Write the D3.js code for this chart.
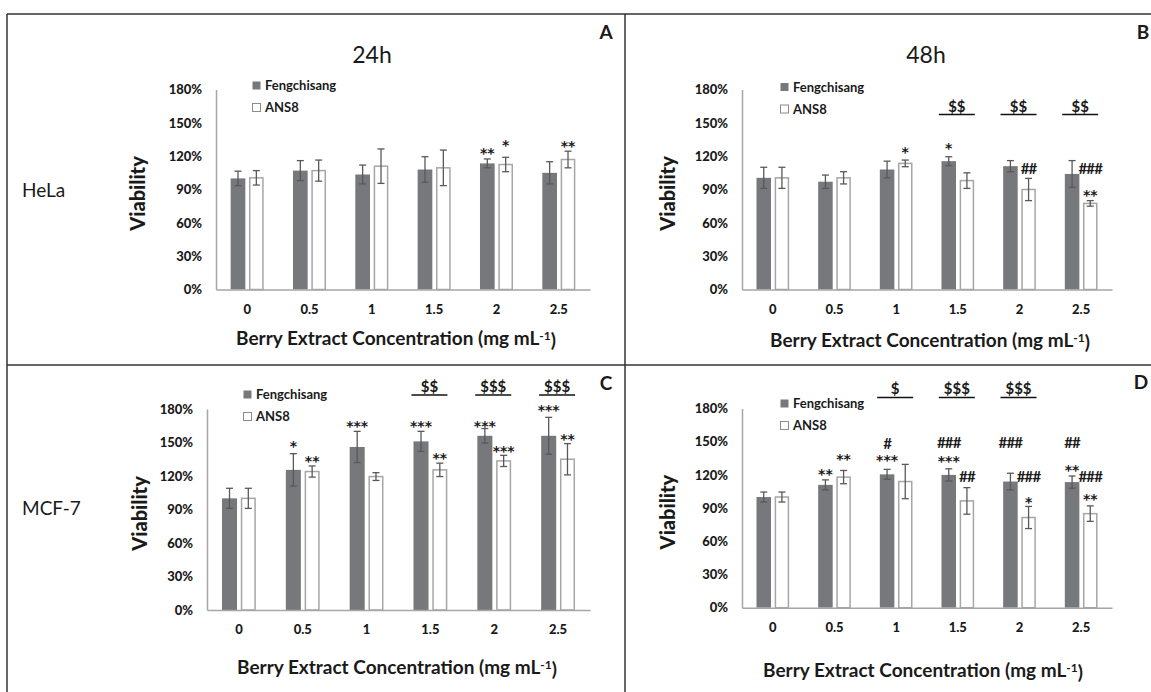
<!DOCTYPE html>
<html>
<head>
<meta charset="utf-8">
<script src="https://cdn.jsdelivr.net/npm/d3@7"></script>
<style>
  body { margin: 0; background: #fff; }
  svg text { font-family: Lato, "Open Sans", sans-serif; fill: #1a1a1a; }
</style>
</head>
<body>
<svg id="chart"></svg>
<script>
const width = 1151;
const height = 692;

const concentrations = ["0", "0.5", "1", "1.5", "2", "2.5"];
const seriesNames = ["Fengchisang", "ANS8"];
const yTicks = [0, 30, 60, 90, 120, 150, 180];

// HeLa, 24h
const helaFeng24 = [100, 107, 103.5, 108, 113.5, 105];
const helaFeng24Err = [6.5, 9, 8.5, 11.5, 4, 10];
const helaAns24 = [100.5, 107, 111, 109.5, 112.5, 117];
const helaAns24Err = [6.5, 9.5, 15.5, 16, 6.5, 7.5];
// HeLa, 48h
const helaFeng48 = [100.5, 97, 108, 115.5, 111, 104];
const helaFeng48Err = [9.5, 6, 7.5, 4, 5, 12];
const helaAns48 = [100.5, 100.5, 113.5, 98, 90, 77.5];
const helaAns48Err = [9.5, 5.5, 3, 7, 10, 2.5];
// MCF-7, 24h
const mcfFeng24 = [100, 125.5, 146, 151, 156, 156];
const mcfFeng24Err = [9, 14.5, 14, 9, 6.5, 16.5];
const mcfAns24 = [100, 124, 119.5, 125.5, 133.5, 135];
const mcfAns24Err = [9, 5, 3.5, 6, 5, 14];
// MCF-7, 48h
const mcfFeng48 = [100, 111, 120.5, 120, 114, 113.5];
const mcfFeng48Err = [4.5, 4.5, 4.5, 5.5, 7.5, 5.5];
const mcfAns48 = [100, 118, 114, 96.5, 81.5, 85];
const mcfAns48Err = [4.5, 6, 15.5, 12, 10, 7];

// significance marks: [concentration index, series index, text, level in %]
const helaMarks24 = [[4, 0, "**", 125.5], [4, 1, "*", 133.5], [5, 1, "**", 132.5]];
const helaMarks48 = [[2, 1, "*", 127], [3, 0, "*", 130], [4, 1, "##", 109],
  [5, 1, "###", 109], [5, 1, "**", 88]];
const mcfMarks24 = [[1, 0, "*", 149.5], [1, 1, "**", 136.5], [2, 0, "***", 167.5],
  [3, 0, "***", 167.5], [3, 1, "**", 139.5], [4, 0, "***", 167.5], [4, 1, "***", 145.5],
  [5, 0, "***", 182], [5, 1, "**", 156]];
const mcfMarks48 = [[1, 0, "**", 124], [1, 1, "**", 137], [2, 0, "#", 148.5], [2, 0, "***", 136.5],
  [3, 0, "###", 149], [3, 0, "***", 135.5], [3, 1, "##", 118.5],
  [4, 0, "###", 149], [4, 1, "###", 118.5], [4, 1, "*", 99],
  [5, 0, "##", 149], [5, 0, "**", 127.5], [5, 1, "###", 118.5], [5, 1, "**", 101.5]];

// $ comparisons between cultivars: [concentration index, text, level in %]
const helaDollars48 = [[3, "$$", 157.5], [4, "$$", 157.5], [5, "$$", 157.5]];
const mcfDollars24 = [[3, "$$", 192.5], [4, "$$$", 192.5], [5, "$$$", 192.5]];
const mcfDollars48 = [[2, "$", 190], [3, "$$$", 190], [4, "$$$", 190]];

const darkFill = "#77787c";
const lightStroke = "#a6a6a6";
const errColor = "#595959";

const panels = [
  { feng: helaFeng24, fengErr: helaFeng24Err, ans: helaAns24, ansErr: helaAns24Err,
    marks: helaMarks24, dollars: [], title: "24h", letter: "A",
    left: 216, right: 590, top: 89.5, bottom: 289.5,
    legendX: 252, legendY: 85.5, yTitleX: 138, titleX: 372, titleY: 55,
    letterX: 606, letterY: 32, xTitleX: 396, xTitleY: 338 },
  { feng: helaFeng48, fengErr: helaFeng48Err, ans: helaAns48, ansErr: helaAns48Err,
    marks: helaMarks48, dollars: helaDollars48, title: "48h", letter: "B",
    left: 742, right: 1112, top: 89.5, bottom: 289.5,
    legendX: 780, legendY: 87, yTitleX: 668, titleX: 926, titleY: 55,
    letterX: 1143, letterY: 32, xTitleX: 930, xTitleY: 340 },
  { feng: mcfFeng24, fengErr: mcfFeng24Err, ans: mcfAns24, ansErr: mcfAns24Err,
    marks: mcfMarks24, dollars: mcfDollars24, letter: "C",
    left: 207, right: 590, top: 409, bottom: 610,
    legendX: 243, legendY: 394.5, yTitleX: 140,
    letterX: 606, letterY: 383, xTitleX: 397, xTitleY: 667 },
  { feng: mcfFeng48, fengErr: mcfFeng48Err, ans: mcfAns48, ansErr: mcfAns48Err,
    marks: mcfMarks48, dollars: mcfDollars48, letter: "D",
    left: 742, right: 1112, top: 408.5, bottom: 607.7,
    legendX: 780, legendY: 403.5, yTitleX: 668,
    letterX: 1141, letterY: 382, xTitleX: 923, xTitleY: 670 }
];

const svg = d3.select("#chart")
  .attr("width", width)
  .attr("height", height);

// table frame
const frame = [[7, 14, 1151, 14], [7, 14, 7, 692], [625, 14, 625, 692], [7, 365, 1151, 365]];
svg.selectAll(".frame")
  .data(frame)
  .enter()
  .append("line")
  .attr("x1", d => d[0]).attr("y1", d => d[1])
  .attr("x2", d => d[2]).attr("y2", d => d[3])
  .attr("stroke", "#333")
  .attr("stroke-width", 1.5);

// row labels
svg.append("text").attr("x", 22).attr("y", 190).attr("dy", "0.35em")
  .style("font-size", "19px").text("HeLa");
svg.append("text").attr("x", 22).attr("y", 508).attr("dy", "0.35em")
  .style("font-size", "19px").text("MCF-7");

panels.forEach(p => {
  const g = svg.append("g");

  const x0 = d3.scaleBand()
    .domain(concentrations)
    .range([p.left, p.right])
    .paddingInner(0.47)
    .paddingOuter(0.235);

  const x1 = d3.scaleBand()
    .domain(seriesNames)
    .range([0, x0.bandwidth()])
    .paddingInner(0.2);

  const y = d3.scaleLinear()
    .domain([0, 180])
    .range([p.bottom, p.top]);

  const rows = concentrations.map((c, i) => ({
    c: c,
    values: [
      { s: seriesNames[0], v: p.feng[i], e: p.fengErr[i] },
      { s: seriesNames[1], v: p.ans[i], e: p.ansErr[i] }
    ]
  }));

  const groups = g.selectAll(".group")
    .data(rows)
    .enter()
    .append("g")
    .attr("transform", d => `translate(${x0(d.c)},0)`);

  const bars = groups.selectAll(".bar")
    .data(d => d.values)
    .enter();

  bars.append("rect")
    .attr("x", d => x1(d.s) + (d.s === "ANS8" ? 0.75 : 0))
    .attr("y", d => y(d.v))
    .attr("width", d => x1.bandwidth() - (d.s === "ANS8" ? 1.5 : 0))
    .attr("height", d => y(0) - y(d.v))
    .attr("fill", d => d.s === "ANS8" ? "#fff" : darkFill)
    .attr("stroke", d => d.s === "ANS8" ? lightStroke : "none")
    .attr("stroke-width", 1.5);

  // error bars
  const cx = d => x1(d.s) + x1.bandwidth() / 2;
  bars.append("line")
    .attr("x1", cx).attr("x2", cx)
    .attr("y1", d => y(d.v - d.e)).attr("y2", d => y(d.v + d.e))
    .attr("stroke", errColor).attr("stroke-width", 1.3);
  [-1, 1].forEach(sign => {
    bars.append("line")
      .attr("x1", d => cx(d) - 3.5).attr("x2", d => cx(d) + 3.5)
      .attr("y1", d => y(d.v + sign * d.e)).attr("y2", d => y(d.v + sign * d.e))
      .attr("stroke", errColor).attr("stroke-width", 1.3);
  });

  // axes
  const yAxis = d3.axisLeft(y)
    .tickValues(yTicks)
    .tickFormat(d => d + "%")
    .tickSize(0)
    .tickPadding(14);

  const yg = g.append("g")
    .attr("transform", `translate(${p.left},0)`)
    .call(yAxis);

  const xAxis = d3.axisBottom(x0)
    .tickSize(0)
    .tickPadding(15);

  const xg = g.append("g")
    .attr("transform", `translate(0,${p.bottom})`)
    .call(xAxis);

  [yg, xg].forEach(ax => {
    ax.select(".domain").attr("stroke", lightStroke).attr("stroke-width", 1.5);
    ax.selectAll("text")
      .attr("fill", "#1a1a1a")
      .style("font-family", "Lato, sans-serif")
      .style("font-size", "13px")
      .style("font-weight", "900");
  });

  // significance marks
  const isStar = d => d[2].includes("*");
  g.selectAll(".mark")
    .data(p.marks)
    .enter()
    .append("text")
    .attr("x", d => x0(concentrations[d[0]]) + x1(seriesNames[d[1]]) + x1.bandwidth() / 2)
    .attr("y", d => y(d[3]))
    .attr("dy", d => isStar(d) ? "0.6em" : "0.36em")
    .attr("text-anchor", "middle")
    .attr("fill", "#111")
    .style("font-family", d => isStar(d) ? "'DejaVu Sans', sans-serif" : null)
    .style("font-size", d => isStar(d) ? "14px" : "15px")
    .style("font-weight", "bold")
    .style("letter-spacing", d => isStar(d) ? "0px" : "-0.8px")
    .text(d => d[2]);

  // $ comparisons with underline
  const dollar = g.selectAll(".dollar")
    .data(p.dollars)
    .enter()
    .append("g")
    .attr("transform", d => `translate(${x0(concentrations[d[0]]) + x0.bandwidth() / 2 - 1},${y(d[2])})`);

  dollar.append("line")
    .attr("x1", -18).attr("x2", 18)
    .attr("stroke", "#111").attr("stroke-width", 1.6);

  dollar.append("text")
    .attr("y", -3)
    .attr("text-anchor", "middle")
    .style("font-size", "15px")
    .style("font-weight", "bold")
    .text(d => d[1]);

  // legend
  const legend = g.append("g")
    .attr("transform", `translate(${p.legendX},${p.legendY})`);

  const items = legend.selectAll(".item")
    .data(seriesNames)
    .enter()
    .append("g")
    .attr("transform", (d, i) => `translate(0,${i * 22})`);

  items.append("rect")
    .attr("x", 0.5).attr("y", -4)
    .attr("width", 8).attr("height", 8)
    .attr("fill", (d, i) => i === 0 ? darkFill : "#fff")
    .attr("stroke", (d, i) => i === 0 ? "none" : "#8c8c8c")
    .attr("stroke-width", 1);

  items.append("text")
    .attr("x", 13)
    .attr("dy", "0.35em")
    .style("font-size", "13px")
    .style("font-weight", "bold")
    .text(d => d);

  // titles
  g.append("text")
    .attr("transform", `translate(${p.yTitleX},${(p.top + p.bottom) / 2 + 4}) rotate(-90)`)
    .attr("text-anchor", "middle")
    .attr("dy", "0.35em")
    .style("font-size", "20px")
    .style("font-weight", "900")
    .text("Viability");

  const xt = g.append("text")
    .attr("x", p.xTitleX)
    .attr("y", p.xTitleY)
    .attr("dy", "0.35em")
    .attr("text-anchor", "middle")
    .style("font-size", "19px")
    .style("font-weight", "bold");
  xt.append("tspan").text("Berry Extract Concentration (mg mL");
  xt.append("tspan").attr("dy", "-0.4em").style("font-size", "12px").text("-1");
  xt.append("tspan").attr("dy", "0.4em").text(")");

  if (p.title) {
    g.append("text")
      .attr("x", p.titleX)
      .attr("y", p.titleY)
      .attr("dy", "0.35em")
      .attr("text-anchor", "middle")
      .style("font-size", "23px")
      .text(p.title);
  }

  g.append("text")
    .attr("x", p.letterX)
    .attr("y", p.letterY)
    .attr("dy", "0.35em")
    .attr("text-anchor", "middle")
    .style("font-size", "19px")
    .style("font-weight", "bold")
    .text(p.letter);
});
</script>
</body>
</html>
